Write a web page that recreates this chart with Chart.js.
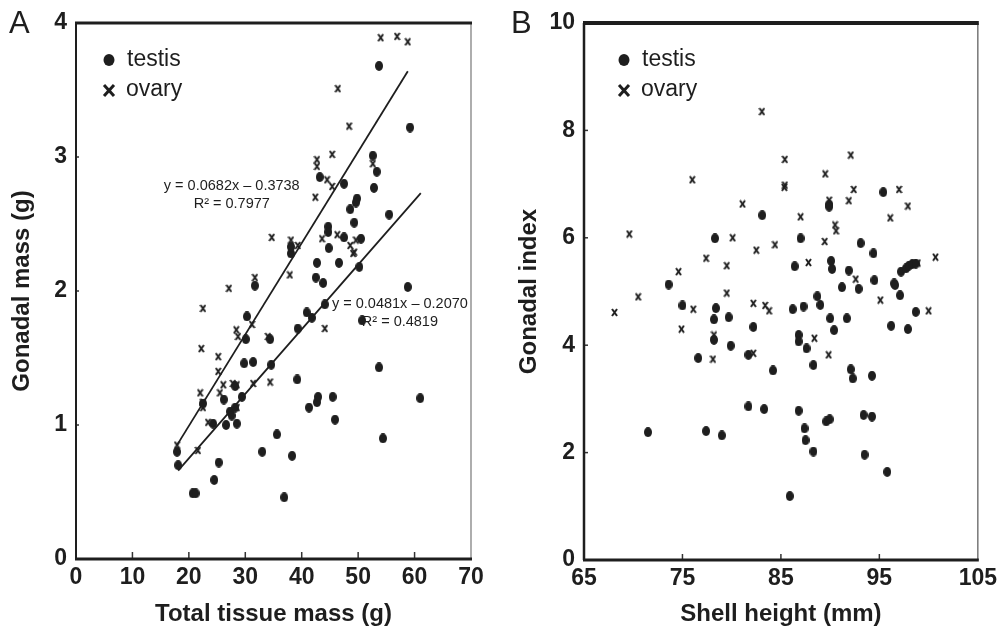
<!DOCTYPE html>
<html>
<head>
<meta charset="utf-8">
<script src="https://cdn.jsdelivr.net/npm/chart.js@4.4.1/dist/chart.umd.min.js"></script>
<style>
  html, body { margin: 0; padding: 0; background: #fff; }
  #wrap { position: relative; width: 1002px; height: 632px; }
  #chartA { position: absolute; left: 0; top: 0; }
  #chartB { position: absolute; left: 500px; top: 0; }
</style>
</head>
<body>
<div id="wrap">
  <canvas id="chartA" width="500" height="632"></canvas>
  <canvas id="chartB" width="502" height="632"></canvas>
</div>
<script>
// Panel A: gonadal mass (g) vs total tissue mass (g), [x, y]
const testisA = [
  [53.7,3.68],[59.2,3.22],[52.6,3.01],[53.3,2.89],[52.8,2.77],[43.2,2.85],[47.5,2.80],
  [49.8,2.69],[49.6,2.66],[48.6,2.61],[55.5,2.57],[49.3,2.51],[44.7,2.48],[44.7,2.44],
  [38.1,2.28],[38.1,2.33],[47.5,2.40],[44.8,2.32],[50.5,2.39],[46.6,2.21],[42.7,2.21],
  [42.5,2.10],[43.8,2.06],[50.2,2.18],[31.7,2.04],[58.8,2.03],[30.3,1.81],[30.1,1.64],
  [29.8,1.46],[31.4,1.47],[34.4,1.64],[39.3,1.72],[40.9,1.84],[41.8,1.80],[44.1,1.90],
  [50.7,1.78],[34.6,1.45],[22.5,1.16],[26.2,1.19],[29.4,1.21],[28.2,1.29],[27.3,1.10],
  [28.2,1.13],[28.5,1.01],[26.6,1.00],[27.6,1.07],[24.3,1.01],[39.2,1.34],[41.3,1.13],
  [42.7,1.17],[42.9,1.21],[45.5,1.21],[45.9,1.04],[53.7,1.43],[61.0,1.20],[54.4,0.90],
  [17.9,0.80],[18.1,0.70],[25.3,0.72],[24.5,0.59],[20.7,0.49],[21.2,0.49],[33.0,0.80],
  [35.6,0.93],[38.3,0.77],[36.9,0.46]
];
const ovaryA = [
  [54.0,3.89],[56.9,3.90],[58.8,3.86],[46.4,3.51],[48.4,3.23],[42.7,2.98],[45.4,3.02],
  [42.7,2.93],[52.6,2.95],[44.5,2.83],[45.4,2.78],[42.4,2.70],[34.7,2.40],[38.1,2.38],
  [39.3,2.34],[43.6,2.39],[46.3,2.42],[48.6,2.34],[49.3,2.29],[49.6,2.38],[49.1,2.28],
  [37.9,2.12],[27.1,2.02],[31.7,2.10],[22.5,1.87],[31.2,1.75],[28.4,1.71],[28.7,1.66],
  [22.2,1.57],[25.2,1.51],[34.0,1.66],[44.1,1.72],[25.2,1.40],[22.0,1.24],[22.5,1.17],
  [22.5,1.13],[25.5,1.24],[26.1,1.30],[27.8,1.31],[28.5,1.30],[28.5,1.13],[31.4,1.31],
  [34.4,1.32],[17.9,0.85],[21.6,0.81],[23.4,1.02]
];
// fitted lines, end points
const ovaryFitA = [[17.9,0.85],[58.8,3.64]];
const testisFitA = [[18.1,0.66],[61.1,2.73]];
const ovaryEqA = ["y = 0.0682x – 0.3738", "R² = 0.7977"];
const testisEqA = ["y = 0.0481x – 0.2070", "R² = 0.4819"];
const xTicksA = [0,10,20,30,40,50,60,70];
const yTicksA = [0,1,2,3,4];

// Panel B: gonadal index vs shell height (mm), [x, y]
const testisB = [
  [83.1,6.42],[78.3,5.99],[73.6,5.13],[75.0,4.74],[78.4,4.69],[78.2,4.48],[79.7,4.52],
  [82.2,4.34],[78.2,4.10],[79.9,3.99],[76.6,3.76],[81.7,3.82],[84.2,3.53],[81.7,2.86],
  [83.3,2.81],[71.5,2.38],[77.4,2.40],[79.0,2.32],[89.9,6.62],[89.9,6.58],[95.4,6.85],
  [87.0,5.99],[93.1,5.90],[94.4,5.71],[86.4,5.47],[90.1,5.57],[90.2,5.42],[91.9,5.39],
  [92.9,5.05],[91.2,5.08],[94.5,5.21],[96.5,5.15],[96.6,5.12],[97.2,5.37],[97.7,5.43],
  [98.0,5.48],[98.35,5.51],[98.7,5.52],[97.1,4.93],[86.2,4.67],[87.3,4.72],[88.7,4.91],
  [89.0,4.75],[91.7,4.50],[90.0,4.50],[90.4,4.28],[98.7,4.62],[96.2,4.36],[97.9,4.30],
  [86.8,4.19],[86.8,4.07],[87.6,3.94],[88.3,3.63],[92.1,3.55],[92.3,3.38],[94.25,3.43],
  [86.8,2.78],[87.4,2.45],[87.5,2.23],[88.3,2.02],[89.6,2.58],[89.95,2.62],[93.4,2.70],
  [94.25,2.67],[93.5,1.96],[95.8,1.64],[85.9,1.19]
];
const ovaryB = [
  [83.07,8.35],[76.0,7.08],[81.1,6.63],[69.6,6.07],[80.1,6.00],[82.5,5.77],[84.4,5.87],
  [77.4,5.62],[79.5,5.48],[74.6,5.37],[79.5,4.97],[70.5,4.90],[68.1,4.61],[76.1,4.67],
  [82.2,4.78],[83.4,4.74],[83.8,4.64],[74.9,4.30],[78.2,4.19],[78.1,3.74],[82.2,3.85],
  [85.4,7.46],[92.1,7.54],[89.5,7.19],[85.35,6.94],[85.4,6.98],[92.4,6.90],[91.9,6.69],
  [97.0,6.90],[97.9,6.59],[89.9,6.70],[96.1,6.37],[87.0,6.39],[90.5,6.24],[90.6,6.13],
  [89.45,5.93],[87.8,5.54],[92.6,5.23],[98.9,5.53],[98.45,5.52],[100.7,5.64],[95.1,4.84],
  [100.0,4.64],[88.4,4.13],[89.85,3.82]
];
const xTicksB = [65,75,85,95,105];
const yTicksB = [0,2,4,6,8,10];

const INK = "#1e1e1e";
const FONT = '"Liberation Sans", Arial, sans-serif';
Chart.defaults.font.family = FONT;
Chart.defaults.color = INK;

const toXY = arr => arr.map(([x, y]) => ({ x, y }));

// marker images: filled upright ellipse and a small x
function dotImage(w, h) {
  const c = document.createElement("canvas");
  c.width = w; c.height = h;
  const g = c.getContext("2d");
  g.fillStyle = INK;
  g.beginPath();
  g.ellipse(w / 2, h / 2, w / 2, h / 2, 0, 0, Math.PI * 2);
  g.fill();
  return c;
}
function crossImage(w, h, lw) {
  const c = document.createElement("canvas");
  c.width = w; c.height = h;
  const g = c.getContext("2d");
  g.strokeStyle = INK;
  g.lineWidth = lw;
  g.beginPath();
  g.moveTo(1, 1); g.lineTo(w - 1, h - 1);
  g.moveTo(w - 1, 1); g.lineTo(1, h - 1);
  g.stroke();
  return c;
}
const dotImg = dotImage(8, 10);
const crossImg = crossImage(7, 9, 2);

// frame, inward ticks, legend, equations and panel letter
const framePlugin = {
  id: "frame",
  afterDraw(chart, args, o) {
    const { ctx, chartArea: a, scales: { x, y } } = chart;
    const line = (x1, y1, x2, y2) => { ctx.beginPath(); ctx.moveTo(x1, y1); ctx.lineTo(x2, y2); ctx.stroke(); };
    ctx.save();
    ctx.strokeStyle = "#333";
    ctx.lineWidth = 1.5;
    x.ticks.forEach(t => {
      const px = x.getPixelForValue(t.value);
      if (px > a.left + 2 && px < a.right - 2) line(px, a.bottom, px, a.bottom - o.tickX);
    });
    y.ticks.forEach(t => {
      const py = y.getPixelForValue(t.value);
      if (py > a.top + 2 && py < a.bottom - 2) line(a.left, py, a.left + o.tickY, py);
    });

    ctx.strokeStyle = "#777";
    ctx.lineWidth = o.right;
    line(a.right, a.top, a.right, a.bottom);
    ctx.strokeStyle = INK;
    ctx.lineWidth = o.left;
    line(a.left, a.top, a.left, a.bottom);
    ctx.lineWidth = o.bottom;
    line(a.left - 1, a.bottom, a.right + 1, a.bottom);
    ctx.lineWidth = o.top;
    line(a.left - 1, a.top, a.right + 1, a.top);

    // legend
    const lx = a.left + o.legendX, ly = a.top + 37;
    ctx.fillStyle = INK;
    ctx.beginPath();
    ctx.ellipse(lx, ly, 5.5, 6, 0, 0, Math.PI * 2);
    ctx.fill();
    ctx.lineWidth = 3;
    line(lx - 5, ly + 25, lx + 5, ly + 36);
    line(lx + 5, ly + 25, lx - 5, ly + 36);
    ctx.font = "23px " + FONT;
    ctx.textBaseline = "middle";
    ctx.textAlign = "left";
    ctx.fillText("testis", lx + 18, ly);
    ctx.fillText("ovary", lx + 17, ly + 30);

    // regression equations
    ctx.font = "14.5px " + FONT;
    ctx.textAlign = "center";
    (o.equations || []).forEach(eq => {
      const px = x.getPixelForValue(eq.at[0]);
      const py = y.getPixelForValue(eq.at[1]);
      ctx.fillText(eq.text[0], px, py);
      ctx.fillText(eq.text[1], px, py + 18);
    });

    ctx.font = "31px " + FONT;
    ctx.textAlign = "left";
    ctx.textBaseline = "alphabetic";
    ctx.fillText(o.letter, o.letterX, 33);
    ctx.restore();
  }
};

function axis(min, max, ticks, title, size, titlePad, labelPad) {
  return {
    type: "linear",
    min, max,
    afterBuildTicks: s => { s.ticks = ticks.map(v => ({ value: v })); },
    afterFit: s => { if (s.isHorizontal()) s.height = size; else s.width = size; },
    grid: { display: false, drawTicks: false, tickLength: 0 },
    border: { display: false },
    ticks: { font: { size: 23, weight: "bold" }, color: INK, padding: labelPad },
    title: { display: true, text: title, font: { size: 24, weight: "bold" }, color: INK, padding: titlePad }
  };
}

function panel(id, p) {
  const fitSet = pts => ({
    data: toXY(pts), showLine: true, borderColor: INK, borderWidth: 1.8,
    pointRadius: 0, fill: false
  });
  const datasets = [];
  if (p.ovaryFit) datasets.push(fitSet(p.ovaryFit));
  if (p.testisFit) datasets.push(fitSet(p.testisFit));
  datasets.push({ label: "testis", data: toXY(p.testis), pointStyle: dotImg, pointRadius: 4 });
  datasets.push({ label: "ovary", data: toXY(p.ovary), pointStyle: crossImg, pointRadius: 4 });

  return new Chart(document.getElementById(id), {
    type: "scatter",
    data: { datasets },
    options: {
      responsive: false,
      animation: false,
      events: [],
      layout: { padding: p.padding },
      plugins: { legend: { display: false }, tooltip: { enabled: false }, frame: p.frame },
      scales: { x: p.x, y: p.y }
    },
    plugins: [framePlugin]
  });
}

panel("chartA", {
  testis: testisA, ovary: ovaryA, ovaryFit: ovaryFitA, testisFit: testisFitA,
  padding: { left: 0, top: 23, right: 29, bottom: 0 },
  x: axis(0, 70, xTicksA, "Total tissue mass (g)", 73, { top: 0, bottom: 3 }, 5),
  y: axis(0, 4, yTicksA, "Gonadal mass (g)", 76, { top: 8, bottom: 0 }, 9),
  frame: {
    top: 3, left: 2, bottom: 3, right: 1.2, tickX: 7, tickY: 3, legendX: 33,
    letter: "A", letterX: 9,
    equations: [{ text: ovaryEqA, at: [27.6, 2.78] }, { text: testisEqA, at: [57.4, 1.90] }]
  }
});

panel("chartB", {
  testis: testisB, ovary: ovaryB,
  padding: { left: 0, top: 23, right: 21, bottom: 0 },
  x: axis(65, 105, xTicksB, "Shell height (mm)", 72, { top: 0, bottom: 3 }, 5),
  y: axis(0, 10, yTicksB, "Gonadal index", 84, { top: 15, bottom: 0 }, 9),
  frame: {
    top: 4, left: 2.5, bottom: 3, right: 1.5, tickX: 6, tickY: 4, legendX: 40,
    letter: "B", letterX: 11
  }
});
</script>
</body>
</html>
